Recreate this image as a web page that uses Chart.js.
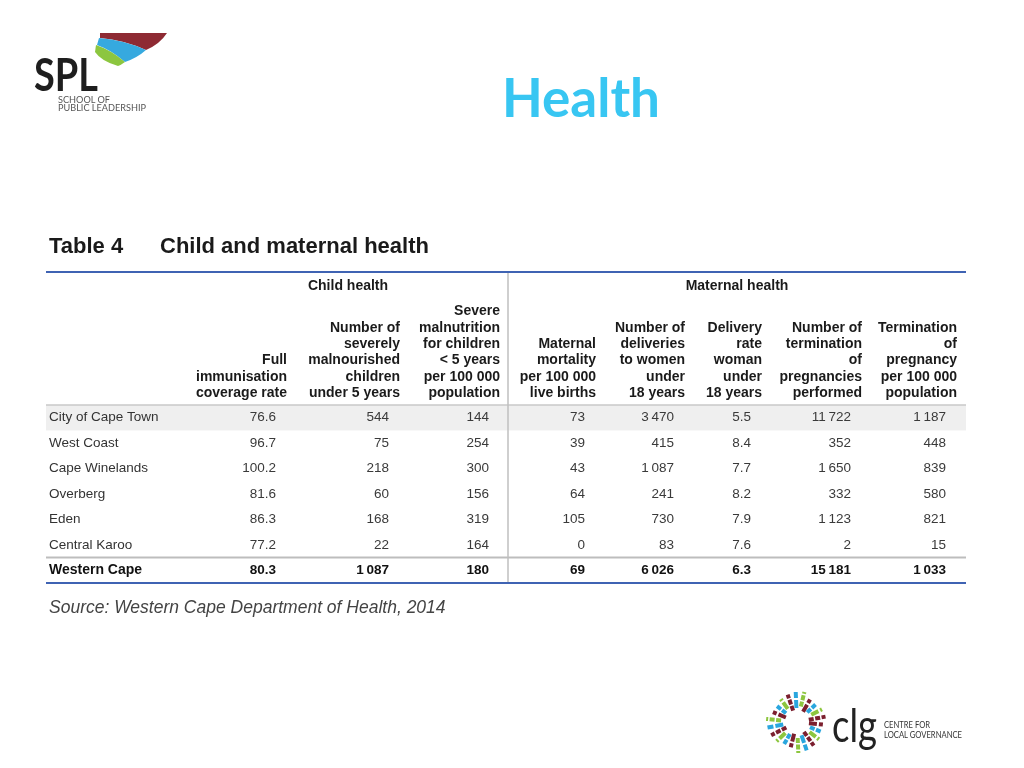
<!DOCTYPE html>
<html>
<head>
<title>Health</title>
<style>
body { margin:0; background:#fff; font-family:"Liberation Sans", Arial, sans-serif; }
#wrap { position:relative; width:1024px; height:768px; overflow:hidden; background:#fff; }
#tableChart { position:absolute; left:0; top:0; }
.abs { position:absolute; white-space:nowrap; line-height:1; }
#title { left:502px; top:70px; font-family:Lato, sans-serif; font-weight:bold; font-size:53px; color:#38c6f2; }
#tblhead { left:49px; top:235px; font-weight:bold; font-size:22px; color:#1a1a1a; }
#tblhead span { position:absolute; left:111px; top:0; }
#source { left:49px; top:599px; font-style:italic; font-size:17.5px; color:#444; }
svg { position:absolute; }
</style>
</head>
<body>
<div id="wrap">
<canvas id="tableChart" width="1024" height="768"></canvas>

<svg id="spl" style="left:0;top:0" width="200" height="130">
  <path d="M100,33 L167,33 Q160,44 146,50 Q124,40 100,38 Z" fill="#8e2a33"/>
  <path d="M99,38 Q124,40 146,50 Q137,58 125,62 Q111,50 97,45 Z" fill="#36a9df"/>
  <path d="M96,45 Q111,50 125,62 Q121,65 118,66 Q101,61 95,52 Z" fill="#8cc63f"/>
  <text x="34" y="91" font-family="Lato, sans-serif" font-weight="bold" font-size="45" fill="#1e1e1e" textLength="64" lengthAdjust="spacingAndGlyphs">SPL</text>
  <text x="58" y="103" font-family="Lato, sans-serif" font-size="8.5" fill="#555" textLength="52" lengthAdjust="spacingAndGlyphs">SCHOOL OF</text>
  <text x="58" y="111" font-family="Lato, sans-serif" font-size="8.5" fill="#555" textLength="88" lengthAdjust="spacingAndGlyphs">PUBLIC LEADERSHIP</text>
</svg>

<div id="title" class="abs">Health</div>
<div id="tblhead" class="abs">Table 4<span>Child and maternal health</span></div>
<div id="source" class="abs">Source: Western Cape Department of Health, 2014</div>

<svg id="clg" style="left:750px;top:680px" width="230" height="85">
  <g id="burst"></g>
  <text x="82" y="62" font-family="Lato, sans-serif" font-size="46" fill="#222" textLength="45" lengthAdjust="spacingAndGlyphs">clg</text>
  <text x="134" y="48" font-family="Lato, sans-serif" font-size="8.5" fill="#333" textLength="46" lengthAdjust="spacingAndGlyphs">CENTRE FOR</text>
  <text x="134" y="58" font-family="Lato, sans-serif" font-size="8.5" fill="#333" textLength="78" lengthAdjust="spacingAndGlyphs">LOCAL GOVERNANCE</text>
</svg>
</div>

<script src="https://cdn.jsdelivr.net/npm/chart.js@4/dist/chart.umd.min.js"></script>
<script>
// table values (Western Cape, 2014)
var regions = ["City of Cape Town", "West Coast", "Cape Winelands", "Overberg", "Eden", "Central Karoo", "Western Cape"];
var immunisation = [76.6, 96.7, 100.2, 81.6, 86.3, 77.2, 80.3];
var malnourished = [544, 75, 218, 60, 168, 22, 1087];
var malnutritionRate = [144, 254, 300, 156, 319, 164, 180];
var maternalMortality = [73, 39, 43, 64, 105, 0, 69];
var teenDeliveries = [3470, 415, 1087, 241, 730, 83, 6026];
var teenDeliveryRate = [5.5, 8.4, 7.7, 8.2, 7.9, 7.6, 6.3];
var terminations = [11722, 352, 1650, 332, 1123, 2, 15181];
var terminationRate = [1187, 448, 839, 580, 821, 15, 1033];

var groups = ["Child health", "Maternal health"];
var columnHeaders = [
  ["Full", "immunisation", "coverage rate"],
  ["Number of", "severely", "malnourished", "children", "under 5 years"],
  ["Severe", "malnutrition", "for children", "< 5 years", "per 100 000", "population"],
  ["Maternal", "mortality", "per 100 000", "live births"],
  ["Number of", "deliveries", "to women", "under", "18 years"],
  ["Delivery", "rate", "woman", "under", "18 years"],
  ["Number of", "termination", "of", "pregnancies", "performed"],
  ["Termination", "of", "pregnancy", "per 100 000", "population"]
];
var columns = [immunisation, malnourished, malnutritionRate, maternalMortality,
               teenDeliveries, teenDeliveryRate, terminations, terminationRate];
var decimals = [1, 0, 0, 0, 0, 1, 0, 0];

// layout (x scale units = px from table left edge)
var colRight = [230, 343, 443, 539, 628, 705, 805, 900];
var groupCenter = [302, 691];
var splitX = 462;

function fmt(v, d) {
  var s = v.toFixed(d);
  var parts = s.split(".");
  parts[0] = parts[0].replace(/\B(?=(\d{3})+(?!\d))/g, "\u2009");
  return parts.join(".");
}

var datasets = columns.map(function (col, j) {
  return {
    label: columnHeaders[j].join(" "),
    data: col.map(function (v, i) { return { x: colRight[j], y: i + 0.5 }; }),
    values: col,
    dec: decimals[j],
    pointRadius: 0
  };
});

var FONT = '"Liberation Sans", Arial, sans-serif';

var tablePlugin = {
  id: 'tableCells',
  beforeDatasetsDraw: function (chart) {
    var ctx = chart.ctx, a = chart.chartArea, y = chart.scales.y, x = chart.scales.x;
    ctx.save();
    ctx.fillStyle = '#efefef';
    ctx.fillRect(a.left, y.getPixelForValue(0), a.right - a.left, y.getPixelForValue(1) - y.getPixelForValue(0));

    // header / body rules
    ctx.strokeStyle = '#c9c9c9'; ctx.lineWidth = 1.5;
    ctx.beginPath(); ctx.moveTo(a.left, y.getPixelForValue(0)); ctx.lineTo(a.right, y.getPixelForValue(0)); ctx.stroke();
    ctx.strokeStyle = '#bdbdbd'; ctx.lineWidth = 2;
    ctx.beginPath(); ctx.moveTo(a.left, y.getPixelForValue(6)); ctx.lineTo(a.right, y.getPixelForValue(6)); ctx.stroke();
    // vertical split
    var sx = x.getPixelForValue(splitX);
    ctx.strokeStyle = '#bfbfbf'; ctx.lineWidth = 1.5;
    ctx.beginPath(); ctx.moveTo(sx, a.top - 133); ctx.lineTo(sx, a.bottom); ctx.stroke();
    // blue rules
    ctx.strokeStyle = '#3f63b3'; ctx.lineWidth = 2;
    ctx.beginPath(); ctx.moveTo(a.left, a.top - 133); ctx.lineTo(a.right, a.top - 133); ctx.stroke();
    ctx.beginPath(); ctx.moveTo(a.left, y.getPixelForValue(7)); ctx.lineTo(a.right, y.getPixelForValue(7)); ctx.stroke();
    ctx.restore();
  },
  afterDatasetsDraw: function (chart) {
    var ctx = chart.ctx, a = chart.chartArea, x = chart.scales.x, y = chart.scales.y;
    ctx.save();
    ctx.textBaseline = 'middle';

    // group headers
    ctx.font = 'bold 14px ' + FONT;
    ctx.fillStyle = '#1a1a1a';
    ctx.textAlign = 'center';
    groups.forEach(function (g, k) {
      ctx.fillText(g, x.getPixelForValue(groupCenter[k]), a.top - 119);
    });

    // column headers, bottom aligned
    ctx.textAlign = 'right';
    columnHeaders.forEach(function (lines, j) {
      var px = x.getPixelForValue(colRight[j]) + 11;
      lines.forEach(function (t, k) {
        ctx.fillText(t, px, a.top - 12 - (lines.length - 1 - k) * 16.3);
      });
    });

    // row labels
    ctx.textAlign = 'left';
    regions.forEach(function (r, i) {
      var last = i === regions.length - 1;
      ctx.font = (last ? 'bold 14px ' : '13.5px ') + FONT;
      ctx.fillStyle = last ? '#111' : '#333';
      ctx.fillText(r, x.getPixelForValue(3), y.getPixelForValue(i + 0.5));
    });

    // cell values from each dataset's points
    ctx.textAlign = 'right';
    chart.data.datasets.forEach(function (ds, j) {
      var meta = chart.getDatasetMeta(j);
      meta.data.forEach(function (pt, i) {
        var last = i === ds.values.length - 1;
        ctx.font = (last ? 'bold 13.5px ' : '13.5px ') + FONT;
        ctx.fillStyle = last ? '#111' : '#3a3a3a';
        ctx.fillText(fmt(ds.values[i], ds.dec), pt.x, pt.y);
      });
    });
    ctx.restore();
  }
};

new Chart(document.getElementById('tableChart').getContext('2d'), {
  type: 'scatter',
  data: { datasets: datasets },
  options: {
    responsive: false,
    animation: false,
    events: [],
    layout: { padding: { left: 46, right: 58, top: 405, bottom: 185 } },
    scales: {
      x: { type: 'linear', min: 0, max: 920, display: false },
      y: { type: 'linear', min: 0, max: 7, reverse: true, display: false }
    },
    plugins: { legend: { display: false }, tooltip: { enabled: false } }
  },
  plugins: [tablePlugin]
});

// clg logo burst (decoration)
(function () {
  var g = document.getElementById('burst');
  var cols = ['#7b1f2e', '#2aa6de', '#8dc63f'];
  var cx = 47, cy = 42;
  for (var k = 0; k < 22; k++) {
    var ang = k / 22 * Math.PI * 2 + 0.1;
    var r0 = 12 + (k % 3) * 2, r1 = 26 + ((k * 7) % 6);
    var l = document.createElementNS('http://www.w3.org/2000/svg', 'line');
    l.setAttribute('x1', cx + Math.cos(ang) * r0);
    l.setAttribute('y1', cy + Math.sin(ang) * r0);
    l.setAttribute('x2', cx + Math.cos(ang) * r1);
    l.setAttribute('y2', cy + Math.sin(ang) * r1);
    l.setAttribute('stroke', cols[k % 3]);
    l.setAttribute('stroke-width', '4');
    l.setAttribute('stroke-dasharray', k % 2 ? '5 1.5' : '8 2');
    g.appendChild(l);
  }
})();
</script>
</body>
</html>
